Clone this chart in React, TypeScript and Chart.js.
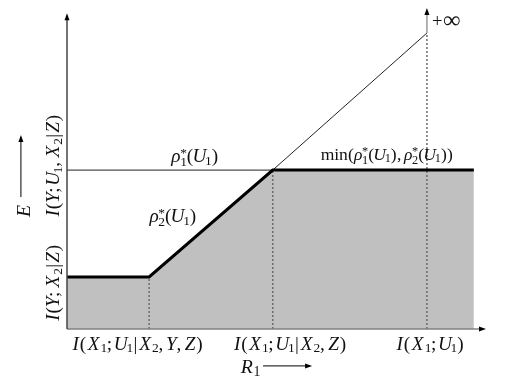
import React, { useEffect, useRef } from "react";
import { Chart, registerables } from "chart.js";

Chart.register(...registerables);

// ---- data (abstract units: x 0..10, y 0..10) ----
const regionX = [0, 1.96, 4.91, 9.71];
const regionY = [1.62, 1.62, 4.95, 4.95];
const rho1X = [0, 4.91];
const rho1Y = [4.95, 4.95];
const rho2X = [4.91, 8.59];
const rho2Y = [4.95, 9.22];
const tickX = [1.96, 4.91, 8.59];
const tickTopY = [1.62, 4.95, 9.22];
const infArrowY = [9.22, 10];
const tickLabels = ["I(X_1;U_1|X_2,Y,Z)", "I(X_1;U_1|X_2,Z)", "I(X_1;U_1)"];
const yLabels = ["I(Y;U_1,X_2|Z)", "I(Y;X_2|Z)"];
const curveLabels = ["ρ_1^*(U_1)", "ρ_2^*(U_1)", "[min](ρ_1^*(U_1),ρ_2^*(U_1))"];
const infLabel = "+∞";
const xTitle = "R_1";
const yTitle = "E";

// label anchors (data units) – placement helpers, not marks
const tickLabelCx = [1.68, 5.32, 8.66];
const tickLabelY = -0.64;
const yLabelCy = [5.08, 1.43];
const yLabelBx = -0.19;
const curveLabelPos = [
  { x: 3.05, y: 5.2, size: 17.5 },
  { x: 2.53, y: 3.33, size: 17.5 },
  { x: 7.64, y: 5.28, size: 16 },
];

const FONT = '"Liberation Serif", "Times New Roman", serif';

// Computer-Modern-like advance widths (em)
const ADV: Record<string, number> = {
  I: 0.44, X: 0.83, U: 0.68, Y: 0.58, Z: 0.68, R: 0.76, E: 0.74, "ρ": 0.52,
  "(": 0.39, ")": 0.39, ";": 0.28, ",": 0.28, "|": 0.28, "+": 0.62, "∞": 1.1,
  "1": 0.5, "2": 0.5, m: 0.83, i: 0.28, n: 0.56, "*": 0.5,
};
// glyph size relative to the layout em
const GLYPH: Record<string, number> = { "∞": 1.45, "+": 1.1 };
const GLYPH_BASE = 1.1;
const isLetter = (c: string) => /[A-Za-zρ]/.test(c);

type Op = { ch: string; italic: boolean; size: number; x: number; dy: number; adv: number };

function layoutMath(str: string, size: number) {
  const ops: Op[] = [];
  let x = 0;
  let roman = false;
  const chars = Array.from(str);
  for (let i = 0; i < chars.length; i++) {
    const c = chars[i];
    if (c === "[") { roman = true; continue; }
    if (c === "]") { roman = false; continue; }
    if (c === "_" || c === "^") {
      let sub: string | null = null;
      let sup: string | null = null;
      let j = i;
      while (j < chars.length && (chars[j] === "_" || chars[j] === "^")) {
        if (chars[j] === "_") sub = chars[j + 1];
        else sup = chars[j + 1];
        j += 2;
      }
      i = j - 1;
      const ss = size * 0.7;
      let w = 0;
      if (sub) {
        const a = (ADV[sub] ?? 0.5) * ss;
        ops.push({ ch: sub, italic: isLetter(sub), size: ss, x, dy: (sup ? 0.25 : 0.15) * size, adv: a });
        w = Math.max(w, a);
      }
      if (sup) {
        const a = (ADV[sup] ?? 0.5) * ss;
        ops.push({ ch: sup, italic: false, size: ss, x, dy: (sup === "*" ? -0.3 : -0.4) * size, adv: a });
        w = Math.max(w, a);
      }
      x += w;
      continue;
    }
    const a = (ADV[c] ?? 0.5) * size;
    ops.push({ ch: c, italic: !roman && isLetter(c), size, x, dy: 0, adv: a });
    x += a;
    if (c === "," || c === ";") x += 0.167 * size;
  }
  return { ops, width: x };
}

function drawMath(ctx: CanvasRenderingContext2D, str: string, x: number, y: number, size: number, align: "left" | "center") {
  const { ops, width } = layoutMath(str, size);
  const x0 = align === "center" ? x - width / 2 : x;
  ctx.save();
  ctx.fillStyle = "#111";
  ctx.textBaseline = "alphabetic";
  ctx.textAlign = "left";
  for (const o of ops) {
    const gs = o.size * (GLYPH[o.ch] ?? GLYPH_BASE);
    ctx.font = `${o.italic ? "italic " : ""}${gs}px ${FONT}`;
    const w = ctx.measureText(o.ch).width;
    let dy = o.dy;
    if (o.ch === "∞") dy += o.size * 0.08;
    ctx.fillText(o.ch, x0 + o.x + (o.adv - w) / 2, y + dy);
  }
  ctx.restore();
}

function arrowHead(ctx: CanvasRenderingContext2D, x: number, y: number, dir: "up" | "right") {
  ctx.save();
  ctx.fillStyle = "#000";
  ctx.beginPath();
  if (dir === "up") {
    ctx.moveTo(x, y);
    ctx.lineTo(x - 2.5, y + 7);
    ctx.lineTo(x + 2.5, y + 7);
  } else {
    ctx.moveTo(x, y);
    ctx.lineTo(x - 7, y - 2.5);
    ctx.lineTo(x - 7, y + 2.5);
  }
  ctx.closePath();
  ctx.fill();
  ctx.restore();
}

const pts = (xs: number[], ys: number[]) => xs.map((x, i) => ({ x, y: ys[i] }));

const decorPlugin = {
  id: "decor",
  afterDatasetsDraw(chart: any) {
    const ctx: CanvasRenderingContext2D = chart.ctx;
    const xs = chart.scales.x;
    const ys = chart.scales.y;
    const X = (v: number) => xs.getPixelForValue(v);
    const Y = (v: number) => ys.getPixelForValue(v);
    ctx.save();
    // x axis
    ctx.strokeStyle = "#808080";
    ctx.lineWidth = 1.5;
    ctx.beginPath();
    ctx.moveTo(X(0), Y(0));
    ctx.lineTo(X(10) - 5, Y(0));
    ctx.stroke();
    arrowHead(ctx, X(10), Y(0), "right");
    // y axis
    ctx.strokeStyle = "#444";
    ctx.beginPath();
    ctx.moveTo(X(0), Y(0));
    ctx.lineTo(X(0), Y(9.84) + 5);
    ctx.stroke();
    arrowHead(ctx, X(0), Y(9.84), "up");
    // infinity arrow
    ctx.strokeStyle = "#999";
    ctx.beginPath();
    ctx.moveTo(X(tickX[2]), Y(infArrowY[0]));
    ctx.lineTo(X(tickX[2]), Y(infArrowY[1]) + 5);
    ctx.stroke();
    arrowHead(ctx, X(tickX[2]), Y(infArrowY[1]), "up");

    // tick labels
    tickLabels.forEach((t, i) => drawMath(ctx, t, X(tickLabelCx[i]), Y(tickLabelY), 17.5, "center"));
    // y labels (rotated)
    yLabels.forEach((t, i) => {
      ctx.save();
      ctx.translate(X(yLabelBx), Y(yLabelCy[i]));
      ctx.rotate(-Math.PI / 2);
      drawMath(ctx, t, 0, 0, 17.5, "center");
      ctx.restore();
    });
    // curve labels
    curveLabels.forEach((t, i) => {
      const p = curveLabelPos[i];
      drawMath(ctx, t, X(p.x), Y(p.y), p.size, "center");
    });
    // +inf
    drawMath(ctx, infLabel, X(8.71), Y(9.42), 17, "left");
    // R1 title + arrow
    drawMath(ctx, xTitle, X(4.13), Y(-1.37), 18, "left");
    ctx.strokeStyle = "#000";
    ctx.lineWidth = 1;
    ctx.beginPath();
    ctx.moveTo(X(4.68), Y(-1.15));
    ctx.lineTo(X(5.85) - 5, Y(-1.15));
    ctx.stroke();
    arrowHead(ctx, X(5.85), Y(-1.15), "right");
    // E title + arrow
    ctx.save();
    ctx.translate(X(-0.88), Y(3.68));
    ctx.rotate(-Math.PI / 2);
    drawMath(ctx, yTitle, 0, 0, 18, "center");
    ctx.restore();
    ctx.beginPath();
    ctx.moveTo(X(-1.1), Y(4.11));
    ctx.lineTo(X(-1.1), Y(6.04) + 5);
    ctx.stroke();
    arrowHead(ctx, X(-1.1), Y(6.04), "up");
    ctx.restore();
  },
};

export default function App() {
  const ref = useRef<HTMLCanvasElement | null>(null);
  useEffect(() => {
    if (!ref.current) return;
    const dotted = tickX.map((x, i) => ({
      data: pts([x, x], [0, tickTopY[i]]),
      borderColor: "#6a6a6a",
      borderWidth: 1.5,
      borderDash: [2, 2],
      pointRadius: 0,
      fill: false,
      order: 5,
    }));
    const chart = new Chart(ref.current, {
      type: "line",
      data: {
        datasets: [
          {
            data: pts(regionX, regionY),
            borderWidth: 0,
            borderColor: "rgba(0,0,0,0)",
            backgroundColor: "#c0c0c0",
            fill: "origin",
            pointRadius: 0,
            order: 10,
          } as any,
          ...dotted,
          {
            data: pts(rho1X, rho1Y),
            borderColor: "#222",
            borderWidth: 1,
            pointRadius: 0,
            fill: false,
            order: 3,
          },
          {
            data: pts(rho2X, rho2Y),
            borderColor: "#222",
            borderWidth: 1,
            pointRadius: 0,
            fill: false,
            order: 3,
          },
          {
            data: pts(regionX, regionY),
            borderColor: "#000",
            borderWidth: 3,
            pointRadius: 0,
            fill: false,
            order: 1,
            borderJoinStyle: "miter",
          },
        ],
      },
      options: {
        responsive: false,
        animation: false,
        devicePixelRatio: 1,
        layout: { padding: { left: 67, right: 26, top: 8, bottom: 55 } },
        plugins: { legend: { display: false }, tooltip: { enabled: false } },
        scales: {
          x: { type: "linear", min: 0, max: 10, display: false },
          y: { type: "linear", min: 0, max: 10, display: false },
        },
      },
      plugins: [decorPlugin],
    });
    return () => chart.destroy();
  }, []);
  return (
    <div style={{ position: "absolute", left: 0, top: 0, width: 512, height: 384, background: "#fff" }}>
      <canvas ref={ref} width={512} height={384} style={{ width: 512, height: 384 }} />
    </div>
  );
}
